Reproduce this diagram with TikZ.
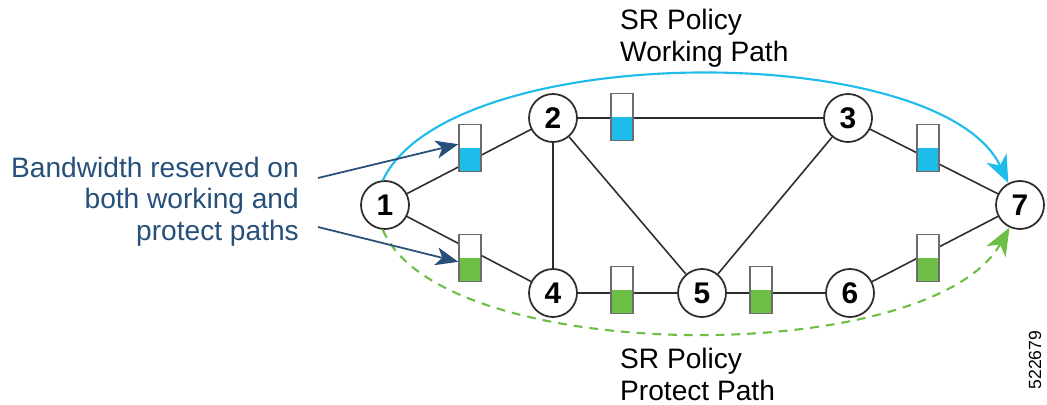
\documentclass[tikz,border=0pt]{standalone}
\usepackage{fontspec}
\setmainfont{Liberation Sans}
\usetikzlibrary{calc, positioning, arrows.meta}

\definecolor{linkgray}{RGB}{45,45,45}
\definecolor{workblue}{RGB}{30,188,234}
\definecolor{protgreen}{RGB}{108,190,69}
\definecolor{notedark}{RGB}{38,79,122}

\tikzset{
    router/.style = {circle, draw=linkgray, line width=1pt, fill=white,
        minimum size=0.96cm, inner sep=0pt,
        font=\bfseries\fontsize{17}{17}\selectfont},
    gauge/.style = {rectangle, draw=gray!85!black, line width=0.8pt, fill=white,
        minimum width=0.44cm, minimum height=0.94cm, inner sep=0pt,
        path picture={\fill[#1] (path picture bounding box.south west)
            rectangle (path picture bounding box.east);}},
    link/.style = {draw=linkgray, line width=0.9pt},
    label/.style = {align=left, font=\fontsize{16}{18}\selectfont},
    pathtip/.style = {-{Stealth[length=5.5mm, width=4.4mm, inset=1.6mm]}},
    notetip/.style = {-{Stealth[length=4.5mm, width=3.6mm, inset=1.2mm]}}
}

\begin{document}
\begin{tikzpicture}
    \useasboundingbox (0,0) rectangle (20.94,8.08);

    % routers
    \node[router] (n1) at (7.70,3.98) {1};
    \node[router] (n2) at (11.06,5.72) {2};
    \node[router] (n3) at (16.96,5.72) {3};
    \node[router] (n4) at (11.06,2.22) {4};
    \node[router] (n5) at (14.04,2.22) {5};
    \node[router] (n6) at (17.00,2.22) {6};
    \node[router] (n7) at (20.40,3.98) {7};

    % links
    \draw[link] (n1) -- (n2);
    \draw[link] (n1) -- (n4);
    \draw[link] (n2) -- (n3);
    \draw[link] (n2) -- (n4);
    \draw[link] (n2) -- (n5);
    \draw[link] (n3) -- (n5);
    \draw[link] (n3) -- (n7);
    \draw[link] (n4) -- (n5);
    \draw[link] (n5) -- (n6);
    \draw[link] (n6) -- (n7);

    % reserved bandwidth
    \node[gauge=workblue] (b12) at (9.40,5.12) {};
    \node[gauge=workblue] (b23) at (12.44,5.74) {};
    \node[gauge=workblue] (b37) at (18.56,5.12) {};
    \node[gauge=protgreen] (b14) at (9.40,2.92) {};
    \node[gauge=protgreen] (b45) at (12.44,2.28) {};
    \node[gauge=protgreen] (b56) at (15.22,2.28) {};
    \node[gauge=protgreen] (b67) at (18.56,2.92) {};

    % sr policy paths
    \draw[workblue, line width=1.2pt, pathtip]
        (n1.95) .. controls (9.0,7.3) and (18.8,7.3) .. (n7.118);
    \draw[protgreen, line width=1.2pt, dash pattern=on 5pt off 4pt, pathtip]
        (n1.265) .. controls (8.8,0.75) and (18.6,0.7) .. (n7.245);

    \node[label, anchor=north west] (work) at (12.28,8.02) {SR Policy\\Working Path};
    \node[label, anchor=south west] (prot) at (12.28,-0.05) {SR Policy\\Protect Path};

    % note
    \node[label, align=right, text=notedark, anchor=east] (note) at (6.10,4.05)
        {Bandwidth reserved on\\both working and\\protect paths};
    \coordinate (a1) at (6.36,4.52);
    \coordinate (a2) at (6.36,3.54);
    \draw[notedark, line width=1pt, notetip] (a1) -- (b12.162);
    \draw[notedark, line width=1pt, notetip] (a2) -- (b14.198);

    \node[rotate=90, font=\fontsize{10}{12}\selectfont] (figno) at (20.70,0.88) {522679};
\end{tikzpicture}
\end{document}
